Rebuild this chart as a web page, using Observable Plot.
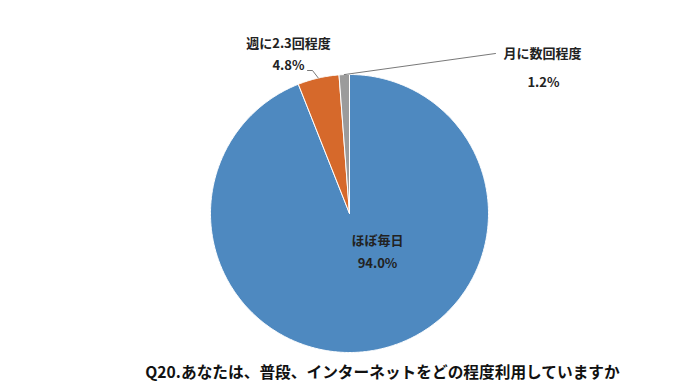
<!DOCTYPE html>
<html>
<head>
<meta charset="utf-8">
<script src="https://cdn.jsdelivr.net/npm/d3@7"></script>
<script src="https://cdn.jsdelivr.net/npm/@observablehq/plot@0.6"></script>
<style>
  body { margin: 0; background: #fff; }
  svg { display: block; }
</style>
</head>
<body>
<div id="chart"></div>
<script>
const categories = ["ほぼ毎日", "週に2.3回程度", "月に数回程度"];
const values = [94.0, 4.8, 1.2];
const valueLabels = ["94.0%", "4.8%", "1.2%"];
const colors = ["#4E89C0", "#D6692B", "#9B9B9B"];
const title = "Q20.あなたは、普段、インターネットをどの程度利用していますか";

// layout (data units = pixels around the pie centre)
const R = 139;
const labelPos = [
  {name: [28, -27], value: [28, -50]},
  {name: [-61, 170], value: [-61, 148]},
  {name: [193, 160], value: [194, 131]}
];
const leaderEnds = [
  null,
  [[-37, 143], [-42, 143]],
  [[146, 160]]
];

const arcs = d3.pie().sort(null).value(d => d)(values);

const slices = [];
arcs.forEach((a, i) => {
  slices.push({cat: categories[i], x: 0, y: 0});
  const n = Math.max(2, Math.ceil((a.endAngle - a.startAngle) / 0.01));
  for (let k = 0; k <= n; k++) {
    const t = a.startAngle + (a.endAngle - a.startAngle) * k / n;
    slices.push({cat: categories[i], x: R * Math.sin(t), y: R * Math.cos(t)});
  }
  slices.push({cat: categories[i], x: 0, y: 0});
});

const leaders = [];
arcs.forEach((a, i) => {
  if (!leaderEnds[i]) return;
  const m = (a.startAngle + a.endAngle) / 2;
  leaders.push({id: i, x: R * Math.sin(m), y: R * Math.cos(m)});
  leaderEnds[i].forEach(p => leaders.push({id: i, x: p[0], y: p[1]}));
});

const labels = [];
categories.forEach((c, i) => {
  labels.push({text: c, x: labelPos[i].name[0], y: labelPos[i].name[1]});
  labels.push({text: valueLabels[i], x: labelPos[i].value[0], y: labelPos[i].value[1]});
});

const chart = Plot.plot({
  width: 700,
  height: 388,
  margin: 0,
  x: {domain: [-349, 351], axis: null},
  y: {domain: [-175, 213], axis: null},
  color: {domain: categories, range: colors},
  style: {fontFamily: "'Noto Sans CJK JP', 'Noto Sans', sans-serif", background: "#fff"},
  marks: [
    Plot.line(slices, {x: "x", y: "y", z: "cat", fill: "cat", stroke: "#fff", strokeWidth: 1, curve: "linear"}),
    Plot.line(leaders, {x: "x", y: "y", z: "id", stroke: "#555", strokeWidth: 0.8}),
    Plot.text(labels, {x: "x", y: "y", text: "text", fontSize: 13, fontWeight: "bold", fill: "#222"}),
    Plot.text([title], {x: () => 33, y: () => -159, text: d => d, fontSize: 15.7, fontWeight: "bold", fill: "#111"})
  ]
});
document.getElementById("chart").appendChild(chart);
</script>
</body>
</html>
